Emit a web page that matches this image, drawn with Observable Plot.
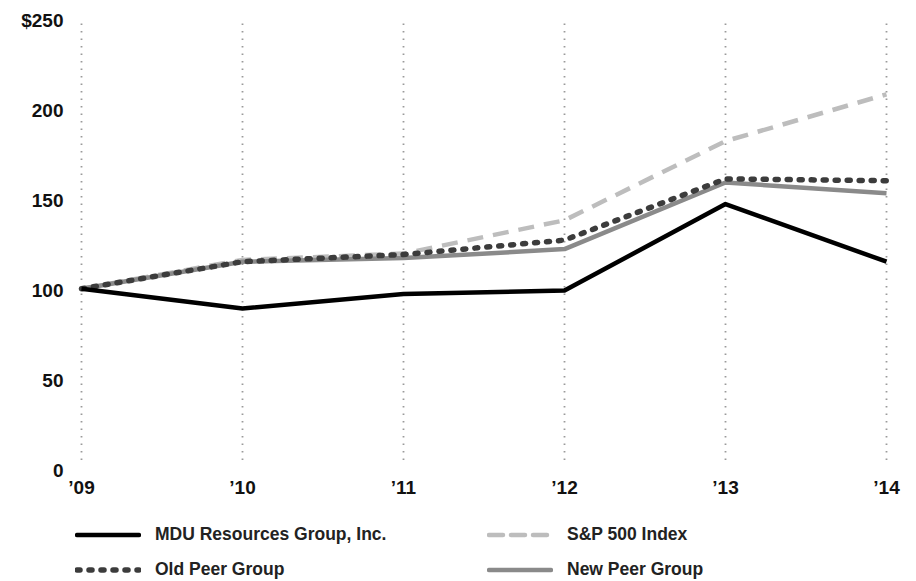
<!DOCTYPE html>
<html><head><meta charset="utf-8">
<script src="https://cdn.jsdelivr.net/npm/d3@7"></script>
<script src="https://cdn.jsdelivr.net/npm/@observablehq/plot@0.6"></script>
<style>
body{margin:0;background:#fff;font-family:"Liberation Sans",Arial,sans-serif;}
#wrap{position:relative;width:916px;height:581px;}
.leg{position:absolute;display:flex;align-items:center;font-weight:bold;font-size:17.5px;color:#222;}
.leg svg{margin-right:14px;}
</style></head><body>
<div id="wrap"><div id="chart"></div></div>
<script>
const years = ["’09","’10","’11","’12","’13","’14"];
const mdu = [101, 90, 98, 100, 148, 116];
const oldPeer = [101, 116, 120, 128, 162, 161];
const newPeer = [101, 116, 118, 123, 160, 154];
const sp500 = [101, 117, 120.5, 139, 183, 209];
const yTicks = [0, 50, 100, 150, 200, 250];

const series = [
  {name:"S&P 500 Index", values:sp500, stroke:"#bdbdbd", width:4.5, dash:"16,10", cap:"butt"},
  {name:"New Peer Group", values:newPeer, stroke:"#8a8a8a", width:4.5, dash:null, cap:"butt"},
  {name:"Old Peer Group", values:oldPeer, stroke:"#3c3c3c", width:5.5, dash:"3,9", cap:"round"},
  {name:"MDU Resources Group, Inc.", values:mdu, stroke:"#000", width:4.5, dash:null, cap:"butt"}
];

const lineMarks = series.map(s => Plot.line(years.map((y,i)=>({year:y, v:s.values[i]})), {
  x:"year", y:"v", stroke:s.stroke, strokeWidth:s.width,
  strokeDasharray:s.dash || undefined, strokeLinecap:s.cap, strokeLinejoin:"round"
}));

const chart = Plot.plot({
  width:916, height:500,
  marginLeft:80, marginRight:30, marginTop:20, marginBottom:30,
  style:{fontFamily:"Liberation Sans, Arial, sans-serif", fontWeight:"bold", fontSize:"19px", color:"#111", background:"#fff"},
  x:{type:"point", domain:years, padding:0, label:null, tickSize:0, tickPadding:10},
  y:{domain:[0,250], ticks:yTicks, label:null, tickSize:0, tickPadding:17,
     tickFormat:d => d===250 ? "$250" : String(d)},
  marks:[
    Plot.ruleX(years, {x:d=>d, y1:0, y2:250, stroke:"#9a9a9a", strokeWidth:1.8, strokeDasharray:"1.5,6", insetTop:-10}),
    ...lineMarks
  ]
});
document.getElementById("chart").appendChild(chart);

const legendItems = [
  {s:series[3], left:75, top:524},
  {s:series[2], left:75, top:559},
  {s:series[0], left:487, top:524},
  {s:series[1], left:487, top:559}
];
const wrap = document.getElementById("wrap");
legendItems.forEach(({s,left,top}) => {
  const d = document.createElement("div");
  d.className = "leg";
  d.style.left = left+"px"; d.style.top = top+"px";
  d.innerHTML = `<svg width="66" height="20"><line x1="2" x2="64" y1="10" y2="10" stroke="${s.stroke}" stroke-width="${s.width}" ${s.dash?`stroke-dasharray="${s.name.startsWith('S&P')?'14,8':'3,9'}"`:''} stroke-linecap="round"/></svg><span>${s.name.replace('&','&amp;')}</span>`;
  wrap.appendChild(d);
});
</script>
</body></html>
